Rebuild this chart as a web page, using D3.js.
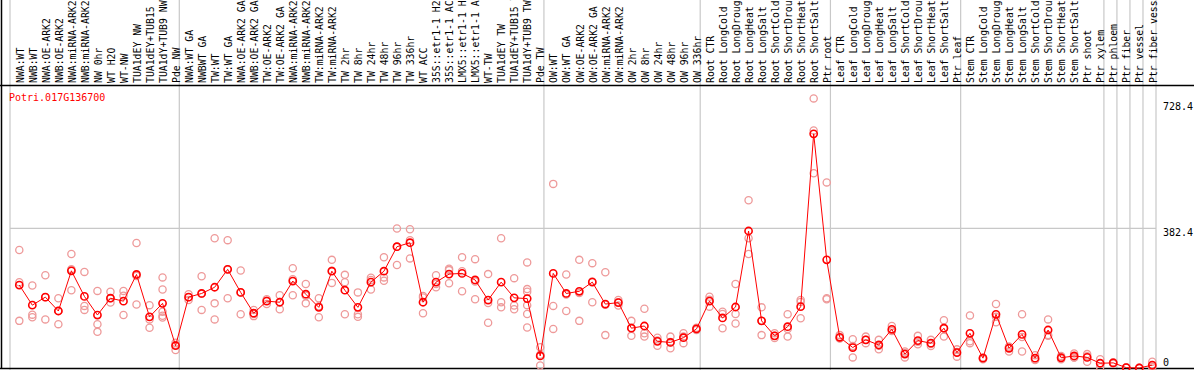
<!DOCTYPE html>
<html>
<head>
<meta charset="utf-8">
<script src="https://cdn.jsdelivr.net/npm/d3@7"></script>
<style>
  body { margin: 0; background: #fff; }
  svg { display: block; }
  text { font-family: "DejaVu Sans Mono", monospace; }
</style>
</head>
<body>
<div id="chart"></div>
<script>
var width = 1194,
    height = 370

var geneName = "Potri.017G136700"

// sample labels, in plotting order
var categories = [
  "NWA:WT", "NWB:WT", "NWA:OE-ARK2", "NWB:OE-ARK2", "NWA:miRNA-ARK2", "NWB:miRNA-ARK2", "NW 0hr", "WT H2O", "WT-NW",
  "TUA1dEY NW", "TUA1dEY+TUB15 NW", "TUA1dY+TUB9 NW", "Pde NW",
  "NWA:WT GA", "NWBWT GA", "TW:WT", "TW:WT GA", "NWA:OE-ARK2 GA", "NWB:OE-ARK2 GA", "TW:OE-ARK2", "TW:OE-ARK2 GA",
  "NWA:miRNA-ARK2 GA", "NWB:miRNA-ARK2 GA", "TW:miRNA-ARK2", "TW:miRNA-ARK2", "TW 2hr", "TW 8hr", "TW 24hr", "TW 48hr",
  "TW 96hr", "TW 336hr", "WT ACC", "35S::etr1-1 H2O", "35S::etr1-1 ACC", "LMX5::etr1-1 H2O", "LMX5::etr1-1 ACC",
  "WT-TW", "TUA1dEY TW", "TUA1dEY+TUB15 TW", "TUA1dY+TUB9 TW", "Pde TW",
  "OW:WT", "OW:WT GA", "OW:OE-ARK2", "OW:OE-ARK2 GA", "OW:miRNA-ARK2", "OW:miRNA-ARK2", "OW 2hr", "OW 8hr", "OW 24hr",
  "OW 48hr", "OW 96hr", "OW 336hr",
  "Root CTR", "Root LongCold", "Root LongDrought", "Root LongHeat", "Root LongSalt", "Root ShortCold", "Root ShortDrought",
  "Root ShortHeat", "Root ShortSalt", "Ptr root",
  "Leaf CTR", "Leaf LongCold", "Leaf LongDrought", "Leaf LongHeat", "Leaf LongSalt", "Leaf ShortCold", "Leaf ShortDrought",
  "Leaf ShortHeat", "Leaf ShortSalt", "Ptr leaf",
  "Stem CTR", "Stem LongCold", "Stem LongDrought", "Stem LongHeat", "Stem LongSalt", "Stem ShortCold", "Stem ShortDrought",
  "Stem ShortHeat", "Stem ShortSalt", "Ptr shoot", "Ptr xylem",
  "Ptr phloem", "Ptr fiber", "Ptr vessel", "Ptr fiber vessel"
]

// index of the first sample of every group (separator lines)
var groupStarts = [0, 13, 41, 53, 63, 73, 84, 85, 86, 87, 88]

// mean expression per sample
var meanValues = [
  227, 172, 194, 156, 266, 196, 145, 191, 183, 256, 140, 177, 61,
  194, 204, 221, 270, 207, 150, 183, 180, 238, 202, 166, 265, 213, 166, 235, 265, 332, 343, 180, 235, 257, 259, 241, 186, 235, 192, 190, 33,
  259, 204, 210, 235, 175, 179, 109, 115, 73, 70, 83, 107,
  183, 137, 167, 375, 129, 88, 113, 168, 641, 296,
  84, 56, 77, 63, 106, 38, 75, 68, 109, 42,
  95, 27, 147, 54, 92, 27, 104, 28, 33, 29, 13,
  14, 1, 0, 8
]

// replicate values per sample
var replicateValues = [
  [323, 235, 129], [226, 146, 139], [254, 194, 133], [191, 156, 120], [312, 270, 213], [263, 170, 159],
  [211, 120, 99], [209, 191, 179], [211, 198, 145], [342, 252, 174], [172, 133, 110], [248, 215, 154, 143, 138],
  [69, 63, 49],
  [202, 194, 186], [251, 203, 159], [355, 177, 133], [350, 270, 191], [267, 207, 147], [159, 148, 142],
  [188, 184, 175], [199, 181, 161], [273, 243, 199], [230, 198, 177], [191, 169, 139], [296, 266, 233],
  [255, 235, 147], [207, 147, 140], [247, 241, 215], [303, 248, 239], [382, 332, 282], [380, 350, 300],
  [197, 193, 150], [254, 230, 221], [272, 268, 232], [303, 265, 210], [298, 237, 188], [257, 178, 124],
  [355, 180, 166], [246, 171, 161], [289, 216, 209, 172, 148, 111], [57, 36, 7],
  [504, 170, 107], [256, 201, 156], [296, 205, 129], [287, 237, 180], [262, 173, 90], [186, 180, 171],
  [129, 110, 88], [162, 95, 86], [83, 75, 61], [86, 71, 54], [95, 86, 68], [110, 107, 104],
  [195, 187, 168], [154, 148, 109], [230, 148, 122], [459, 355, 312], [166, 129, 90], [95, 88, 82],
  [147, 107, 86], [186, 181, 136], [738, 650, 533], [508, 191, 188],
  [90, 82, 81], [79, 60, 29], [86, 77, 68], [77, 61, 51], [115, 102, 101], [45, 41, 29],
  [88, 72, 65], [77, 66, 60], [131, 109, 86], [51, 44, 31],
  [144, 73, 68], [29, 27, 24], [175, 140, 125], [58, 58, 45], [147, 85, 45], [35, 23, 22],
  [133, 90, 88], [33, 28, 24], [40, 29, 29], [38, 32, 17], [24, 13, 2],
  [16, 14, 12], [2, 1, 1], [1, 0, 0], [17, 4, 3]
]

var yTicks = [0, 382.4, 728.4]
var gridValue = 382.4

var svg = d3.select("#chart")
    .append("svg")
    .attr("width", width)
    .attr("height", height)

var x = d3.scaleBand()
    .domain(d3.range(categories.length))
    .range([10, 1156])

var y = d3.scaleLinear()
    .domain([0, 382.4])
    .range([368, 228.3])

// point sits a bit right of the band centre, like the original
function px(i) { return x(i) + 9.3 }

// group separators, full height
svg.selectAll(".sep")
    .data(groupStarts)
    .enter().append("line")
    .attr("x1", d => x(d) === undefined ? x.range()[1] : x(d))
    .attr("x2", d => x(d) === undefined ? x.range()[1] : x(d))
    .attr("y1", 0).attr("y2", height)
    .style("stroke", "#c8c8c8").style("stroke-width", 1.2)

// horizontal reference line
svg.append("line")
    .attr("x1", 10).attr("x2", 1156)
    .attr("y1", y(gridValue)).attr("y2", y(gridValue))
    .style("stroke", "#c8c8c8").style("stroke-width", 1.2)

// frame
svg.append("line").attr("x1", 1.5).attr("x2", 1.5).attr("y1", 0).attr("y2", 369).style("stroke", "#000").style("stroke-width", 1.5)
svg.append("line").attr("x1", 0).attr("x2", width).attr("y1", 85.5).attr("y2", 85.5).style("stroke", "#000").style("stroke-width", 1.5)
svg.append("line").attr("x1", 0).attr("x2", width).attr("y1", 368.5).attr("y2", 368.5).style("stroke", "#000").style("stroke-width", 1.5)

// sample labels, rotated
svg.selectAll(".lab")
    .data(categories)
    .enter().append("text")
    .attr("transform", (d, i) => "translate(" + (px(i) + 0.8) + ",83) rotate(-90)")
    .attr("dy", "0.35em")
    .style("font-size", "9.8px")
    .style("fill", "#000")
    .text(d => d)

// gene name
svg.append("text").attr("x", 9).attr("y", 101).text(geneName)
    .style("font-size", "10px").style("fill", "#ff0000")

// y labels on the right
svg.selectAll(".ytick")
    .data(yTicks)
    .enter().append("text")
    .attr("x", 1163)
    .attr("y", d => d === 0 ? y(d) - 2.5 : y(d) + 8)
    .style("font-size", "10px")
    .style("fill", "#000")
    .text(d => d)

// replicate circles
var reps = []
replicateValues.forEach(function(arr, i) {
  arr.forEach(function(v) { reps.push({ i: i, v: v }) })
})
svg.selectAll(".rep")
    .data(reps)
    .enter().append("circle")
    .attr("cx", d => px(d.i))
    .attr("cy", d => y(d.v))
    .attr("r", 3.6)
    .style("fill", "none")
    .style("stroke", "#ee9a9a")
    .style("stroke-width", 1.3)

// mean line
var line = d3.line()
    .x((d, i) => px(i))
    .y(d => y(d))

svg.append("path")
    .datum(meanValues)
    .attr("d", line)
    .style("fill", "none")
    .style("stroke", "#ff0000")
    .style("stroke-width", 1)

// mean circles
svg.selectAll(".mean")
    .data(meanValues)
    .enter().append("circle")
    .attr("cx", (d, i) => px(i))
    .attr("cy", d => y(d))
    .attr("r", 3.6)
    .style("fill", "none")
    .style("stroke", "#ff0000")
    .style("stroke-width", 1.6)
</script>
</body>
</html>
